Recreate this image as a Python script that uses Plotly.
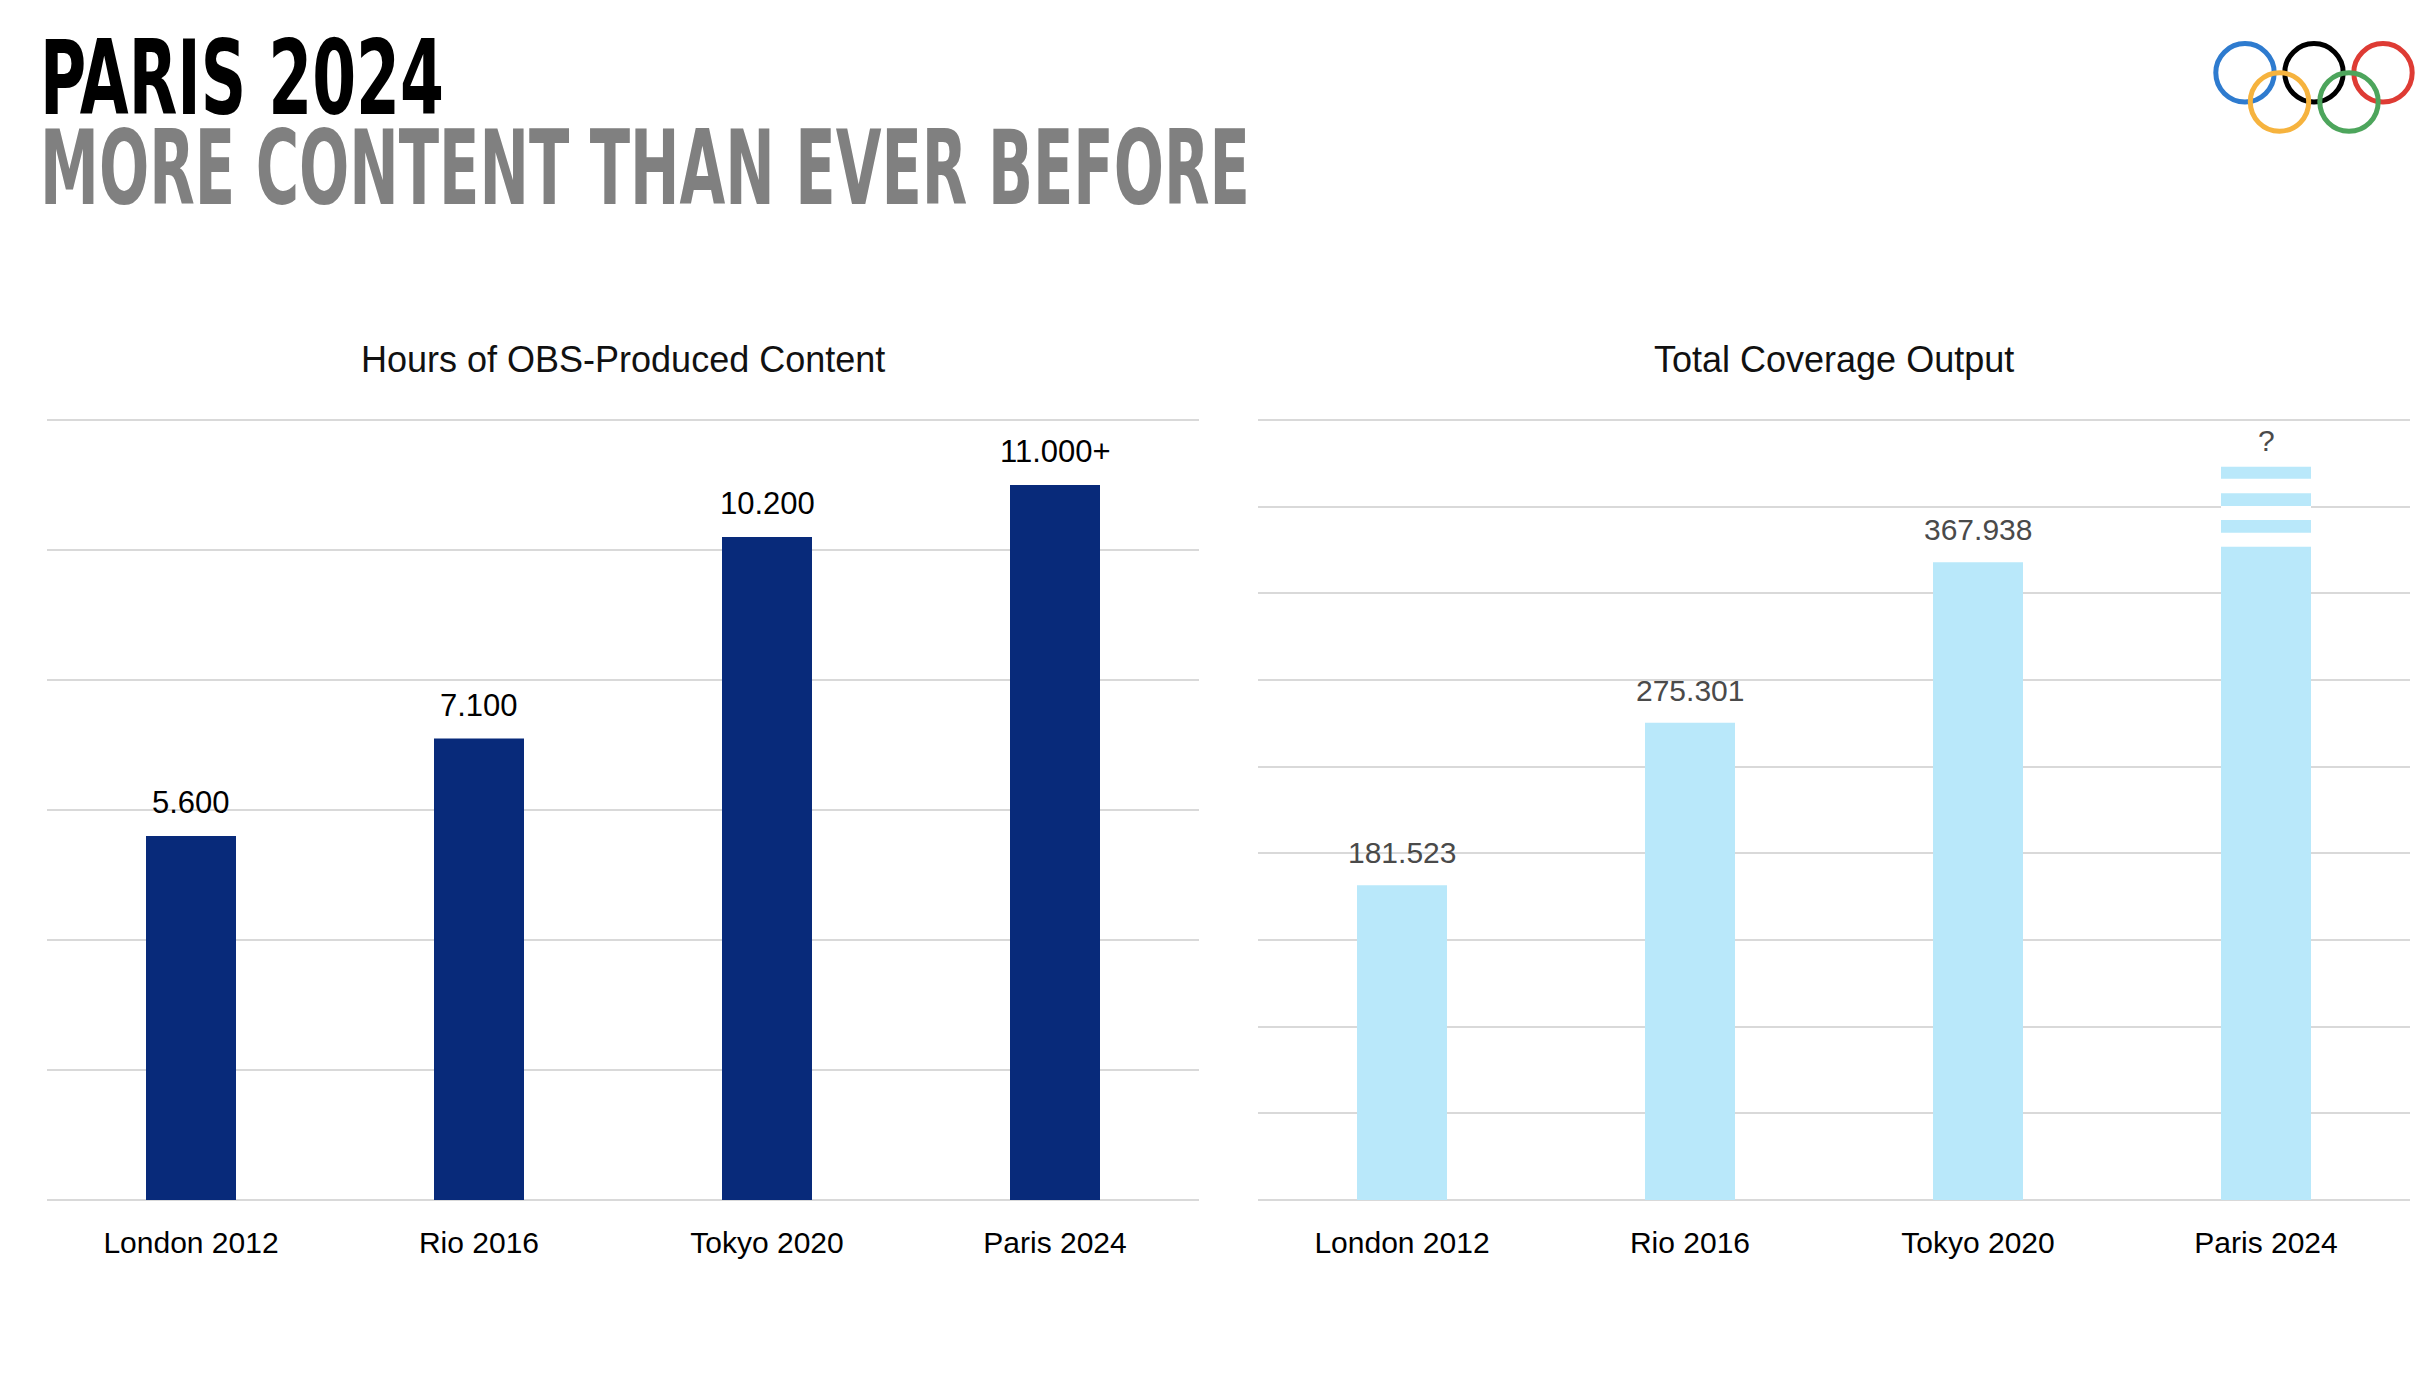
import plotly.graph_objects as go

W, H = 2435, 1373

# ---------------- data ----------------
categories = ["London 2012", "Rio 2016", "Tokyo 2020", "Paris 2024"]
hours = [5600, 7100, 10200, 11000]
hours_labels = ["5.600", "7.100", "10.200", "11.000+"]

coverage = [181523, 275301, 367938, 423040]          # Paris value
coverage_labels = ["181.523", "275.301", "367.938", "?"]
paris_gap_low = [376890, 392300, 407690]             # white gaps in Paris bar
paris_gap_high = [384970, 400370, 416120]

title_main = "PARIS 2024"
title_sub = "MORE CONTENT THAN EVER BEFORE"
left_title = "Hours of OBS-Produced Content"
right_title = "Total Coverage Output"

# ---------------- style ----------------
NAVY = "#082A7A"
LIGHT = "#B9E8FA"
GRID = "#D9D9D9"
SANS = "Liberation Sans, Arial, sans-serif"
COND = "Liberation Sans Narrow, Arial Narrow, DejaVu Sans Condensed, sans-serif"

def px(x):
    return x / W

def py(y):
    return 1 - y / H

fig = go.Figure()

fig.add_trace(go.Bar(x=categories, y=hours, marker=dict(color=NAVY, line=dict(width=0)),
                     xaxis="x", yaxis="y", hoverinfo="x+y"))
fig.add_trace(go.Bar(x=categories, y=coverage, marker=dict(color=LIGHT, line=dict(width=0)),
                     xaxis="x2", yaxis="y2", hoverinfo="x+y"))
gap_heights = [h - l for l, h in zip(paris_gap_low, paris_gap_high)]
fig.add_trace(go.Bar(x=[categories[3]] * len(paris_gap_low), y=gap_heights, base=paris_gap_low,
                     marker=dict(color="white", line=dict(width=0)),
                     xaxis="x2", yaxis="y2", hoverinfo="skip"))

annotations = []
for c, v, t in zip(categories, hours, hours_labels):
    annotations.append(dict(x=c, y=v, xref="x", yref="y", text=t, showarrow=False,
                            yanchor="bottom", yshift=14,
                            font=dict(family=SANS, size=31, color="#000000")))
for i, (c, v, t) in enumerate(zip(categories, coverage, coverage_labels)):
    annotations.append(dict(x=c, y=v, xref="x2", yref="y2", text=t, showarrow=False,
                            yanchor="bottom", yshift=14 if i < 3 else 8,
                            font=dict(family=SANS, size=30, color="#4A4A4A")))

# subplot titles
annotations.append(dict(x=px(623), y=py(382), xref="paper", yref="paper", text=left_title,
                        showarrow=False, xanchor="center", yanchor="bottom",
                        font=dict(family=SANS, size=36, color="#111111")))
annotations.append(dict(x=px(1834), y=py(382), xref="paper", yref="paper", text=right_title,
                        showarrow=False, xanchor="center", yanchor="bottom",
                        font=dict(family=SANS, size=36, color="#111111")))
# main titles
annotations.append(dict(x=px(38), y=py(140), xref="paper", yref="paper", text=title_main,
                        showarrow=False, xanchor="left", yanchor="bottom",
                        font=dict(family=COND, size=103, color="#000000", weight="bold")))
annotations.append(dict(x=px(38), y=py(230), xref="paper", yref="paper", text=title_sub,
                        showarrow=False, xanchor="left", yanchor="bottom",
                        font=dict(family=COND, size=103, color="#808080", weight="bold")))

# olympic rings
rings = [("#2E7BCF", 2245, 72.8), ("#000000", 2314, 72.8), ("#DE3B34", 2383, 72.8),
         ("#F6B33E", 2279.5, 102), ("#4DA55C", 2349, 102)]
shapes = []
R = 29.2
for col, cx, cy in rings:
    shapes.append(dict(type="circle", xref="paper", yref="paper",
                       x0=px(cx - R), x1=px(cx + R), y0=py(cy + R), y1=py(cy - R),
                       line=dict(color=col, width=5), fillcolor="rgba(0,0,0,0)"))

common_x = dict(type="category", showgrid=False, zeroline=False, showline=False, ticks="",
                tickfont=dict(family=SANS, size=30, color="#000000"), ticklabelstandoff=22,
                fixedrange=True)
common_y = dict(showgrid=True, gridcolor=GRID, gridwidth=2, zeroline=True, zerolinecolor=GRID,
                zerolinewidth=2, showticklabels=False, ticks="", showline=False, fixedrange=True)

fig.update_layout(
    width=W, height=H,
    margin=dict(l=0, r=0, t=0, b=0),
    paper_bgcolor="white", plot_bgcolor="white",
    showlegend=False,
    barmode="overlay",
    bargap=0.6875,
    xaxis=dict(domain=[px(47), px(1199)], anchor="y", **common_x),
    xaxis2=dict(domain=[px(1258), px(2410)], anchor="y2", **common_x),
    yaxis=dict(domain=[py(1200), py(413.5)], anchor="x", range=[0, 12100], dtick=2000, **common_y),
    yaxis2=dict(domain=[py(1200), py(413.5)], anchor="x2", range=[0, 453750], dtick=50000, **common_y),
    annotations=annotations,
    shapes=shapes,
)

# remove default page margin; horizontally condense the headline text to match the
# reference's condensed display face
post = """
document.documentElement.style.margin = '0';
document.body.style.margin = '0';
document.body.style.padding = '0';
var targets = {'PARIS 2024': 404, 'MORE CONTENT THAN EVER BEFORE': 1210};
document.querySelectorAll('text.annotation-text').forEach(function(t){
  var w = targets[t.textContent];
  if (!w) return;
  var bb = t.getBBox();
  var s = w / bb.width;
  var x0 = bb.x;
  t.setAttribute('transform', 'translate(' + x0 + ',0) scale(' + s + ',1) translate(' + (-x0) + ',0)');
});
"""

fig.write_html("out.html", post_script=post, config={"displayModeBar": False})
